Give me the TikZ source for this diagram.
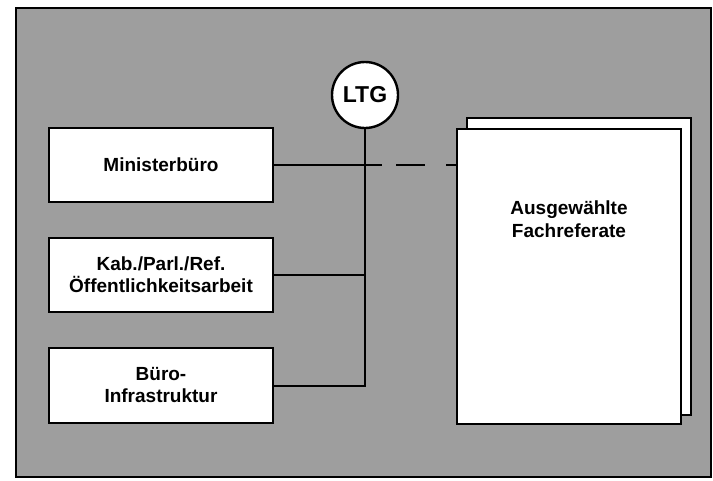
\documentclass[tikz,border=0pt]{standalone}
\usepackage{fontspec}
\setmainfont{Liberation Sans}
\begin{document}
\begin{tikzpicture}[x=1pt,y=-1pt,
  unitbox/.style={draw=black,line width=2.4pt,fill=white,minimum width=224pt,
    minimum height=74pt,align=center,inner sep=0pt,
    font=\fontsize{19}{22}\selectfont\bfseries},
  page/.style={draw=black,line width=2.4pt,fill=white,minimum width=224pt,inner sep=0pt},
  conn/.style={line width=2pt,line cap=butt}]
\useasboundingbox (0,0) rectangle (713,480);
\fill[white] (0,0) rectangle (713,480);
\node[draw=black,line width=2pt,fill=black!38,minimum width=695pt,minimum height=469pt,inner sep=0pt] (frame) at (363.5,242.5) {};
% pages
\node[page,minimum height=297pt] (back) at (579,266.5) {};
\node[page,minimum height=295pt] (front) at (569,276.5) {};
\node[font=\fontsize{19}{23}\selectfont\bfseries,align=center] (fachtext) at (569,219) {Ausgewählte\\Fachreferate};
% left boxes
\node[unitbox] (minister) at (161,165) {Ministerbüro};
\node[unitbox] (kab) at (161,275) {Kab./Parl./Ref.\\Öffentlichkeitsarbeit};
\node[unitbox,minimum height=75pt] (buero) at (161,385.5) {Büro-\\Infrastruktur};
% LTG
\node[circle,draw=black,line width=2.4pt,fill=white,minimum size=66pt,inner sep=0pt,
  font=\fontsize{23}{25}\selectfont\bfseries] (ltg) at (365,95) {LTG};
% connectors
\draw[conn] (buero.east) -| (ltg.south);
\draw[conn] (kab.east) -- (kab.east -| ltg.south);
\coordinate (d1) at (382,165);
\draw[conn] (minister.east) -- (d1);
\draw[conn,dash pattern=on 0pt off 14pt on 29pt off 21pt on 20pt] (d1) -- (d1 -| front.west);
\end{tikzpicture}
\end{document}
